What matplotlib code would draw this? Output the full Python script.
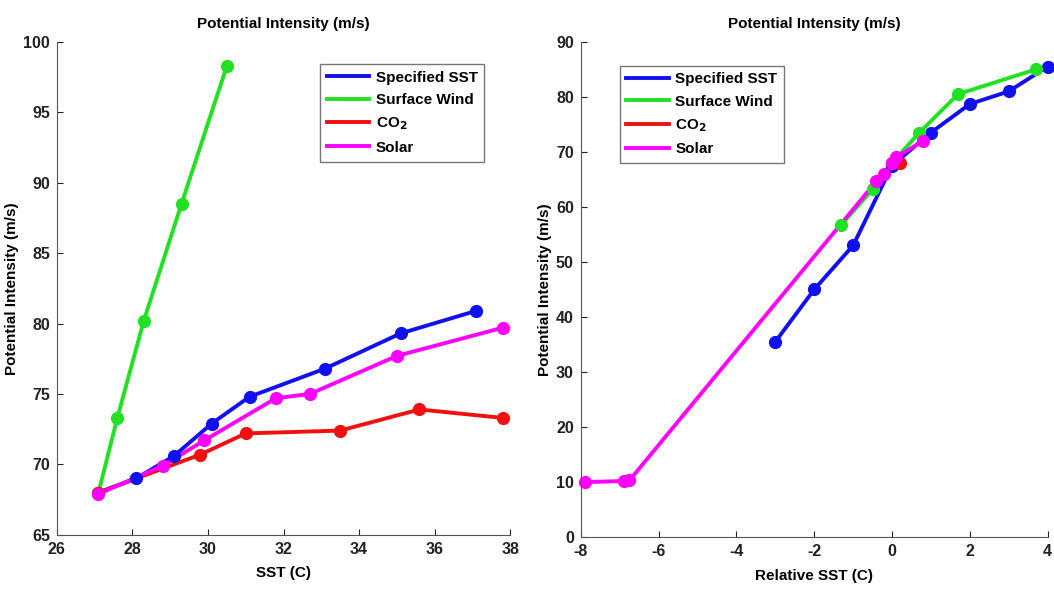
import matplotlib
matplotlib.use("Agg")
import matplotlib.pyplot as plt

plt.rcParams['font.family'] = ['Liberation Sans', 'DejaVu Sans']
plt.rcParams['font.weight'] = 'bold'
plt.rcParams['axes.labelweight'] = 'bold'
plt.rcParams['axes.titleweight'] = 'bold'
plt.rcParams['axes.unicode_minus'] = False

labels = ['Specified SST', 'Surface Wind', 'CO$_2$', 'Solar']
colors = ['#1010f0', '#22e022', '#f01010', '#ff00ff']

# left panel: absolute SST
sst_spec_x = [27.1, 28.1, 29.1, 30.1, 31.1, 33.1, 35.1, 37.1]
sst_spec_y = [68.0, 69.0, 70.6, 72.9, 74.8, 76.8, 79.3, 80.9]
sst_wind_x = [27.1, 27.6, 28.3, 29.3, 30.5]
sst_wind_y = [68.0, 73.3, 80.2, 88.5, 98.3]
sst_co2_x = [27.1, 29.8, 31.0, 33.5, 35.6, 37.8]
sst_co2_y = [68.0, 70.7, 72.2, 72.4, 73.9, 73.3]
sst_solar_x = [27.1, 28.8, 29.9, 31.8, 32.7, 35.0, 37.8]
sst_solar_y = [67.9, 69.9, 71.7, 74.7, 75.0, 77.7, 79.7]

# right panel: relative SST
rel_spec_x = [-3, -2, -1, 0, 1, 2, 3, 4]
rel_spec_y = [35.5, 45.0, 53.0, 67.5, 73.5, 78.7, 81.0, 85.5]
rel_wind_x = [-1.3, -0.5, 0.0, 0.7, 1.7, 3.7]
rel_wind_y = [56.8, 63.2, 68.0, 73.5, 80.5, 85.0]
rel_co2_x = [0.0, 0.2]
rel_co2_y = [68.0, 68.0]
rel_solar_x = [-7.9, -6.9, -6.75, -0.4, -0.2, 0.0, 0.1, 0.8]
rel_solar_y = [10.0, 10.2, 10.3, 64.7, 66.0, 68.0, 69.0, 72.0]

fig = plt.figure(figsize=(10.54, 5.89), dpi=100)
ax1 = fig.add_axes([0.054, 0.092, 0.430, 0.837])
ax2 = fig.add_axes([0.551, 0.088, 0.443, 0.841])

left = [(sst_spec_x, sst_spec_y), (sst_wind_x, sst_wind_y),
        (sst_co2_x, sst_co2_y), (sst_solar_x, sst_solar_y)]
right = [(rel_spec_x, rel_spec_y), (rel_wind_x, rel_wind_y),
         (rel_co2_x, rel_co2_y), (rel_solar_x, rel_solar_y)]

for ax, data in [(ax1, left), (ax2, right)]:
    for (x, y), c, lab in zip(data, colors, labels):
        ax.plot(x, y, '-', color=c, lw=2.8, label=lab)
    for (x, y), c in zip(data, colors):
        ax.plot(x, y, 'o', color=c, ms=8.5, clip_on=False)
    for s in ['top', 'right']:
        ax.spines[s].set_visible(False)
    ax.spines['left'].set_color('#555555')
    ax.spines['bottom'].set_color('#555555')
    ax.tick_params(direction='in', labelsize=11.5, length=4, pad=5,
                   colors='#222222')
    ax.set_title('Potential Intensity (m/s)', fontsize=11, pad=10)
    ax.set_ylabel('Potential Intensity (m/s)', fontsize=11, labelpad=3)
    ax.xaxis.label.set_size(11)

ax1.set_xlim(26, 38)
ax1.set_ylim(65, 100)
ax1.set_xticks(range(26, 39, 2))
ax1.set_yticks(range(65, 101, 5))
ax1.set_xlabel('SST (C)', labelpad=7)

ax2.set_xlim(-8, 4)
ax2.set_ylim(0, 90)
ax2.set_xticks(range(-8, 5, 2))
ax2.set_yticks(range(0, 91, 10))
ax2.set_xlabel('Relative SST (C)', labelpad=7)

for ax, loc in [(ax1, (0.58, 0.757)), (ax2, (0.083, 0.755))]:
    leg = ax.legend(loc='lower left', bbox_to_anchor=loc, fontsize=11,
                    fancybox=False, framealpha=1, edgecolor='#777777',
                    handlelength=2.8, handletextpad=0.4, borderpad=0.45,
                    labelspacing=0.55, borderaxespad=0)
    leg.get_frame().set_linewidth(1.0)

fig.savefig('out.png', dpi=100)
